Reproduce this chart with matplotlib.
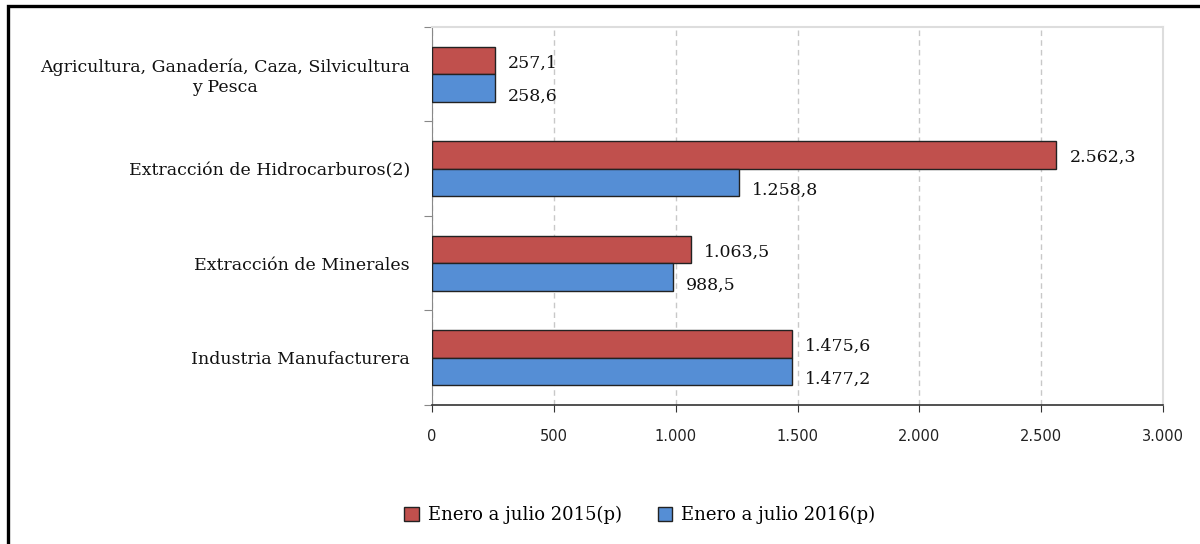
import matplotlib.pyplot as plt
from matplotlib.patches import Rectangle
import numpy as np

# Data (millones)
categories = [
    "Agricultura, Ganadería, Caza, Silvicultura\ny Pesca",
    "Extracción de Hidrocarburos(2)",
    "Extracción de Minerales",
    "Industria Manufacturera",
]
ene_jul_2015 = [257.1, 2562.3, 1063.5, 1475.6]
ene_jul_2016 = [258.6, 1258.8, 988.5, 1477.2]
series_names = ["Enero a julio 2015(p)", "Enero a julio 2016(p)"]
xticks = [0, 500, 1000, 1500, 2000, 2500, 3000]

red = "#c0504d"
blue = "#558ed5"
serif = ["DejaVu Serif"]


def fmt_es(v, dec=1):
    s = f"{v:,.{dec}f}"
    return s.replace(",", "X").replace(".", ",").replace("X", ".")


fig = plt.figure(figsize=(12, 5.44), dpi=100)
ax = fig.add_axes([0.36, 0.2555, 0.6092, 0.695])

y = np.arange(len(categories))
h = 0.29
b1 = ax.barh(y - h / 2, ene_jul_2015, height=h, color=red, edgecolor="#222222",
             linewidth=1.0, label=series_names[0], zorder=3)
b2 = ax.barh(y + h / 2, ene_jul_2016, height=h, color=blue, edgecolor="#222222",
             linewidth=1.0, label=series_names[1], zorder=3)

for bars, vals, dy in [(b1, ene_jul_2015, -2), (b2, ene_jul_2016, -6)]:
    for bar, v in zip(bars, vals):
        ax.annotate(fmt_es(v), (bar.get_width(), bar.get_y() + bar.get_height() / 2),
                    xytext=(9.5, dy), textcoords="offset points", ha="left", va="center",
                    fontsize=12.5, family=serif, color="#111111")

ax.set_xlim(0, 3000)
ax.set_ylim(len(categories) - 0.5, -0.5)
ax.set_xticks(xticks)
ax.set_xticklabels([fmt_es(t, 0) for t in xticks], fontsize=10.5, family="DejaVu Sans",
                   color="#222222")
ax.tick_params(axis="x", direction="out", length=5, pad=12, color="#333333")

# category boundaries as major ticks, labels at centers
ax.set_yticks(np.arange(len(categories) + 1) - 0.5)
ax.set_yticklabels([])
ax.tick_params(axis="y", which="major", direction="out", length=6, color="#888888")
ax.set_yticks(y, minor=True)
ax.set_yticklabels(categories, minor=True, fontsize=12.5, family=serif,
                   multialignment="center", color="#111111")
ax.tick_params(axis="y", which="minor", length=0, pad=16)

ax.grid(axis="x", linestyle=(0, (4, 3)), color="#c8c8c8", linewidth=1.0, zorder=0)
ax.spines["left"].set_color("#888888")
ax.spines["bottom"].set_color("#333333")
ax.spines["bottom"].set_linewidth(1.2)
for s in ["top", "right"]:
    ax.spines[s].set_color("#dddddd")
    ax.spines[s].set_linewidth(1.5)

fig.legend(loc="center", bbox_to_anchor=(640 / 1200, 1 - 515 / 544), ncol=2,
           frameon=False, handlelength=0.8, handleheight=0.8, handletextpad=0.5,
           columnspacing=2.0, prop={"family": serif, "size": 13})

# outer frame
fig.patches.append(Rectangle((7.5 / 1200, -0.05), 1.1, 1.05 - 5.5 / 544,
                             transform=fig.transFigure, fill=False,
                             edgecolor="black", linewidth=2.4, clip_on=False))

fig.savefig("out.png", dpi=100)
